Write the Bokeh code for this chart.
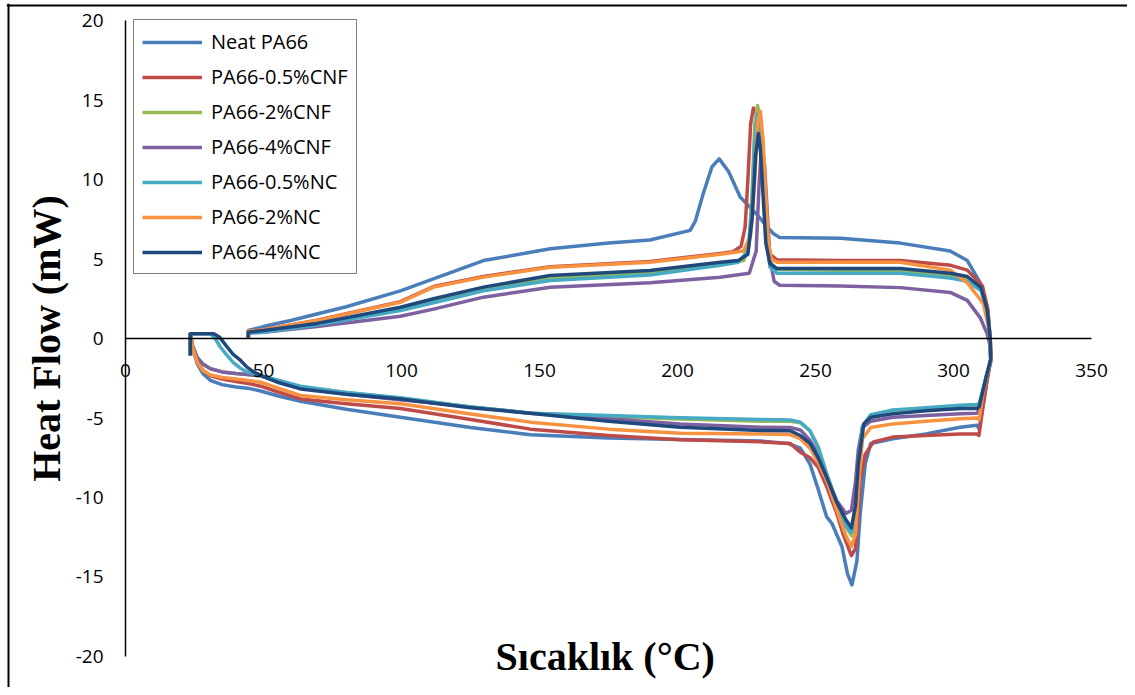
from bokeh.plotting import figure
from bokeh.models import Range1d, FixedTicker, Label, Legend, LegendItem, PrintfTickFormatter, LinearAxis
from bokeh.embed import file_html
from bokeh.resources import INLINE
import math

# ---------------- data ----------------
x_ticks = [0, 50, 100, 150, 200, 250, 300, 350]
y_ticks = [-20, -15, -10, -5, 0, 5, 10, 15, 20]

series_names = ["Neat PA66", "PA66-0.5%CNF", "PA66-2%CNF", "PA66-4%CNF",
                "PA66-0.5%NC", "PA66-2%NC", "PA66-4%NC"]
series_colors = ["#4A7EBB", "#BE4B48", "#98B954", "#7D60A0",
                 "#46AAC5", "#F69240", "#1F497D"]

# Neat PA66: heating then cooling
neat_T = [23.5, 23.5, 24.3, 26, 28, 30.8, 35, 40, 45, 49,
          55, 63.4, 80, 99.6, 125, 146.7, 175, 201, 230, 240,
          244.5, 248, 251, 254, 256, 259.6, 261.6, 263.2, 265, 266.2,
          268, 270, 278, 290, 302.4, 308.5, 309.3, 310.5, 312, 313.5,
          313.3, 312.2, 309.7, 305, 298.8, 280.7, 259, 237, 234.7, 228.2,
          222.7, 218.5, 215.1, 212.5, 209.3, 206.5, 204.6, 190, 175, 153.9,
          129.7, 99.6, 80, 59.8, 50, 44.5, 44.5]
neat_HF = [-1.07, 0.3, -0.55, -1.6, -2.2, -2.64, -2.9, -3.05, -3.15, -3.3,
           -3.6, -3.95, -4.45, -4.95, -5.6, -6.05, -6.25, -6.35, -6.45, -6.6,
           -6.9, -7.9, -9.5, -11.2, -11.65, -13.1, -14.8, -15.5, -14.0, -11.0,
           -7.9, -6.6, -6.3, -6.0, -5.58, -5.45, -5.7, -4.4, -2.8, -1.3,
           0.0, 2.0, 3.5, 4.9, 5.5, 6.0, 6.3, 6.35, 6.6, 7.9,
           8.9, 10.5, 11.3, 10.8, 9.1, 7.4, 6.8, 6.2, 6.0, 5.64,
           4.9, 3.0, 2.0, 1.13, 0.75, 0.5, 0.05]

# PA66-0.5%CNF
cnf05_T = [23.5, 23.5, 24.3, 26, 28, 30.8, 35, 40, 45, 49,
           55, 63.4, 80, 99.6, 125, 146.7, 175, 201, 230, 240.8,
           244.5, 248, 251, 254, 257.7, 260, 263, 264.5, 266.2, 268,
           271, 278, 290, 302.4, 308.5, 309.2, 310.5, 312, 313.5,
           313.3, 312.5, 310.5, 305, 299, 280.7, 259, 236, 233.5, 232,
           230.5, 229, 227.5, 226.5, 225.5, 224.5, 223, 220, 215.5, 190,
           153.9, 129.7, 111.6, 99.6, 69.4, 50, 44.5, 44.5]
cnf05_HF = [-1.07, 0.3, -0.5, -1.45, -2.0, -2.35, -2.55, -2.7, -2.85, -3.0,
            -3.35, -3.8, -4.1, -4.4, -5.1, -5.7, -6.1, -6.37, -6.5, -6.6,
            -7.15, -7.5, -8.1, -9.3, -11.0, -12.3, -13.65, -13.2, -8.9, -7.3,
            -6.5, -6.2, -6.1, -6.0, -6.0, -6.1, -4.5, -2.8, -1.3,
            0.0, 1.8, 3.3, 4.3, 4.6, 4.9, 4.9, 4.95, 5.3, 7.0,
            11.0, 14.0, 14.5, 13.5, 10.0, 7.0, 5.8, 5.45, 5.35, 4.85,
            4.52, 3.9, 3.27, 2.32, 1.15, 0.55, 0.45, 0.05]

# PA66-2%CNF
cnf2_T = [23.5, 23.5, 24.3, 26, 28, 30.8, 35, 40, 45, 49,
          55, 63.4, 80, 99.6, 125, 146.7, 175, 201, 230, 240.8,
          244.5, 248, 251, 254, 257.7, 261, 263, 264.5, 265.5, 267,
          270, 278, 290, 302.4, 308.5, 309.3, 310.5, 312, 313.5,
          313.3, 312.2, 310, 305, 298.8, 280.7, 259, 236, 233.5, 232,
          231, 230, 229, 228, 227, 226, 224, 215.5, 190, 153.9,
          129.7, 111.6, 99.6, 69.4, 50, 44.5, 44.5]
cnf2_HF = [-1.07, 0.3, -0.45, -1.2, -1.6, -1.9, -2.1, -2.2, -2.28, -2.35,
           -2.65, -3.05, -3.4, -3.75, -4.3, -4.7, -4.9, -5.07, -5.2, -5.2,
           -5.3, -5.8, -6.8, -8.5, -10.3, -11.8, -12.4, -11.5, -8.0, -5.6,
           -5.0, -4.6, -4.5, -4.4, -4.35, -4.3, -3.5, -2.3, -1.3,
           0.0, 1.8, 3.2, 3.8, 4.0, 4.25, 4.3, 4.35, 4.8, 6.5,
           10.0, 13.8, 14.65, 13.5, 9.0, 6.0, 4.9, 4.7, 4.15, 3.75,
           3.1, 2.4, 1.85, 0.95, 0.45, 0.4, 0.05]

# PA66-4%CNF
cnf4_T = [23.5, 23.5, 24.3, 26, 28, 30.8, 35, 40, 45, 49,
          55, 63.4, 80, 99.6, 125, 146.7, 175, 201, 230, 240.8,
          244.5, 248, 251, 254, 257.7, 261, 263, 264.5, 265.5, 267,
          270, 278, 290, 302.4, 308.5, 309.3, 310.5, 312, 313.5,
          313.3, 312.2, 309.7, 305, 298.8, 280.7, 259, 237, 235, 233.5,
          232.5, 231.5, 230.5, 229.5, 228.5, 226, 215.5, 190, 153.9, 129.7,
          111.6, 99.6, 69.4, 50, 44.5, 44.5]
cnf4_HF = [-1.07, 0.3, -0.45, -1.2, -1.6, -1.9, -2.1, -2.2, -2.28, -2.35,
           -2.7, -3.1, -3.5, -3.85, -4.3, -4.7, -5.05, -5.37, -5.58, -5.6,
           -5.75, -6.4, -7.3, -8.7, -10.2, -11.0, -10.8, -9.0, -7.0, -5.6,
           -5.2, -4.95, -4.85, -4.74, -4.7, -4.5, -3.5, -2.3, -1.5,
           -0.5, 0.3, 1.3, 2.4, 2.9, 3.2, 3.3, 3.35, 3.6, 5.0,
           8.0, 11.0, 12.3, 9.5, 5.5, 4.1, 3.85, 3.5, 3.23, 2.6,
           1.85, 1.4, 0.75, 0.4, 0.35, 0.05]

# PA66-0.5%NC
nc05_T = [23.5, 23.5, 30.8, 32.5, 34.4, 36.5, 39, 41.5, 44, 48,
          55, 63.4, 80, 99.6, 125, 146.7, 175, 201, 230, 240.8,
          244.5, 248, 251, 254, 257.7, 261, 263, 264.5, 265.5, 267,
          270, 278, 290, 302.4, 308.5, 309.3, 310.5, 312, 313.5,
          313.3, 312.2, 310, 305, 298.8, 280.7, 259, 236, 233.5, 232,
          231, 230, 229, 228, 227, 225.5, 222, 215.5, 190, 153.9,
          129.7, 111.6, 99.6, 69.4, 50, 44.5, 44.5]
nc05_HF = [-1.07, 0.3, 0.3, 0.0, -0.55, -1.0, -1.5, -1.85, -2.1, -2.3,
           -2.6, -3.0, -3.4, -3.73, -4.3, -4.7, -4.85, -4.99, -5.1, -5.12,
           -5.26, -5.8, -6.9, -8.5, -10.3, -11.8, -12.2, -11.3, -8.0, -5.5,
           -4.8, -4.5, -4.35, -4.2, -4.15, -4.1, -3.3, -2.3, -1.3,
           0.0, 1.7, 3.0, 3.6, 3.8, 4.1, 4.1, 4.1, 4.5, 6.5,
           10.0, 13.5, 14.1, 12.5, 8.5, 5.5, 4.8, 4.6, 4.0, 3.65,
           3.0, 2.25, 1.76, 0.85, 0.4, 0.35, 0.05]

# PA66-2%NC
nc2_T = [23.5, 23.5, 24.3, 26, 28, 30.8, 35, 40, 45, 49,
         55, 63.4, 80, 99.6, 125, 146.7, 175, 201, 230, 240.8,
         244.5, 248, 251, 254, 257.7, 261, 263, 264.5, 265.5, 267,
         270, 278, 290, 302.4, 308.5, 309.3, 310.5, 312, 313.5,
         313, 310.8, 305, 298.8, 280.7, 259, 236, 234, 233, 232,
         231, 230, 229, 228, 226.5, 224, 215.5, 190, 153.9, 129.7,
         111.6, 99.6, 69.4, 50, 44.5, 44.5]
nc2_HF = [-1.07, 0.3, -0.55, -1.5, -2.0, -2.3, -2.45, -2.55, -2.65, -2.75,
          -3.1, -3.58, -3.85, -4.1, -4.75, -5.26, -5.7, -5.96, -6.0, -6.04,
          -6.3, -6.9, -7.8, -8.9, -10.8, -12.4, -13.1, -12.3, -9.5, -6.3,
          -5.6, -5.37, -5.2, -5.05, -5.0, -5.1, -3.6, -2.4, -1.3,
          0.5, 2.2, 3.5, 4.3, 4.8, 4.8, 4.8, 5.0, 6.0, 9.0,
          12.5, 14.3, 13.5, 10.0, 6.5, 5.5, 5.3, 4.8, 4.48, 3.86,
          3.23, 2.28, 1.13, 0.55, 0.45, 0.05]

# PA66-4%NC
nc4_T = [23.5, 23.5, 32, 34, 36.9, 39, 41.7, 44, 46.4, 50,
         55, 63.4, 80, 99.6, 125, 146.7, 175, 201, 230, 240.8,
         244.5, 248, 251, 254, 257.7, 261, 263, 264.5, 265.5, 267.5,
         270, 278, 290, 302.4, 308.5, 309.3, 310.5, 312, 313.5,
         313.3, 312.2, 310, 305, 298.8, 280.7, 259, 236, 233.5, 232,
         231, 230, 229.3, 228.3, 227, 225.5, 222, 215.5, 190, 153.9,
         129.7, 111.6, 99.6, 69.4, 50, 44.5, 44.5]
nc4_HF = [-1.07, 0.3, 0.3, 0.1, -0.55, -1.0, -1.38, -1.8, -2.1, -2.4,
          -2.75, -3.17, -3.5, -3.8, -4.35, -4.7, -5.2, -5.58, -5.79, -5.8,
          -6.1, -6.6, -7.5, -8.7, -10.3, -11.4, -11.9, -10.5, -7.9, -5.37,
          -4.95, -4.74, -4.55, -4.4, -4.4, -4.3, -3.4, -2.3, -1.3,
          0.0, 1.8, 3.2, 3.9, 4.1, 4.4, 4.4, 4.4, 4.7, 6.0,
          9.0, 12.0, 12.9, 11.5, 7.5, 5.3, 4.9, 4.8, 4.28, 3.96,
          3.23, 2.5, 1.97, 0.95, 0.5, 0.4, 0.05]

series_T = [neat_T, cnf05_T, cnf2_T, cnf4_T, nc05_T, nc2_T, nc4_T]
series_HF = [neat_HF, cnf05_HF, cnf2_HF, cnf4_HF, nc05_HF, nc2_HF, nc4_HF]

# ---------------- figure ----------------
# The frame covers the whole chart area; axes cross at the origin.
FONT = "Open Sans"
X_LEFT, X_RIGHT = -43.12, 363.04
Y_BOTTOM, Y_TOP = -21.95, 21.07
p = figure(width=1127, height=687,
           x_range=Range1d(X_LEFT, X_RIGHT), y_range=Range1d(Y_BOTTOM, Y_TOP),
           output_backend="svg", toolbar_location=None,
           min_border_left=6, min_border_right=0,
           min_border_top=3, min_border_bottom=0)
p.xgrid.visible = False
p.ygrid.visible = False
p.outline_line_color = None
p.background_fill_color = "white"
p.border_fill_color = "white"

p.xaxis.fixed_location = 0
p.yaxis.fixed_location = 0
p.xaxis.bounds = (0, 350)
p.yaxis.bounds = (-20, 20)
for ax, ticks in ((p.xaxis, x_ticks), (p.yaxis, y_ticks)):
    ax.ticker = FixedTicker(ticks=ticks)
    ax.formatter = PrintfTickFormatter(format="%d")
    ax.major_tick_line_color = None
    ax.minor_tick_line_color = None
    ax.major_tick_out = 0
    ax.major_tick_in = 0
    ax.axis_line_color = "black"
    ax.axis_line_width = 1.5
    ax.major_label_text_font = FONT
    ax.major_label_text_font_size = "19px"
    ax.major_label_text_color = "black"
p.xaxis.major_label_standoff = 25
p.yaxis.major_label_standoff = 22

# chart-area border (left and top edges only, as in the reference)
for loc, side in ((X_LEFT + 0.72, "left"), (Y_TOP - 0.126, "above")):
    b = LinearAxis(fixed_location=loc, ticker=FixedTicker(ticks=[]),
                   axis_line_color="black", axis_line_width=2,
                   major_tick_line_color=None, minor_tick_line_color=None,
                   major_label_text_font_size="0px")
    p.add_layout(b, side)

renderers = []
for T, HF, c in zip(series_T, series_HF, series_colors):
    r = p.line(T, HF, line_color=c, line_width=3.5, line_join="round")
    renderers.append(r)

legend = Legend(items=[LegendItem(label=n, renderers=[r]) for n, r in zip(series_names, renderers)],
                location=(127, 413), margin=0, padding=8, spacing=8,
                glyph_width=60, glyph_height=20, label_height=20, label_standoff=9,
                label_text_font=FONT, label_text_font_size="20px", label_text_color="black",
                border_line_color="black", border_line_width=1.5,
                background_fill_color="white", background_fill_alpha=1.0)
p.add_layout(legend, "center")

p.add_layout(Label(x=-28.5, y=0, text="Heat Flow (mW)", angle=math.pi / 2,
                   text_align="center", text_baseline="middle",
                   text_font="Liberation Serif", text_font_style="bold",
                   text_font_size="40px", text_color="black"))
p.add_layout(Label(x=173.8, y=-20.0, text="Sıcaklık (°C)",
                   text_align="center", text_baseline="middle",
                   text_font="Liberation Serif", text_font_style="bold",
                   text_font_size="40px", text_color="black"))

open("out.html", "w").write(file_html(p, INLINE))
